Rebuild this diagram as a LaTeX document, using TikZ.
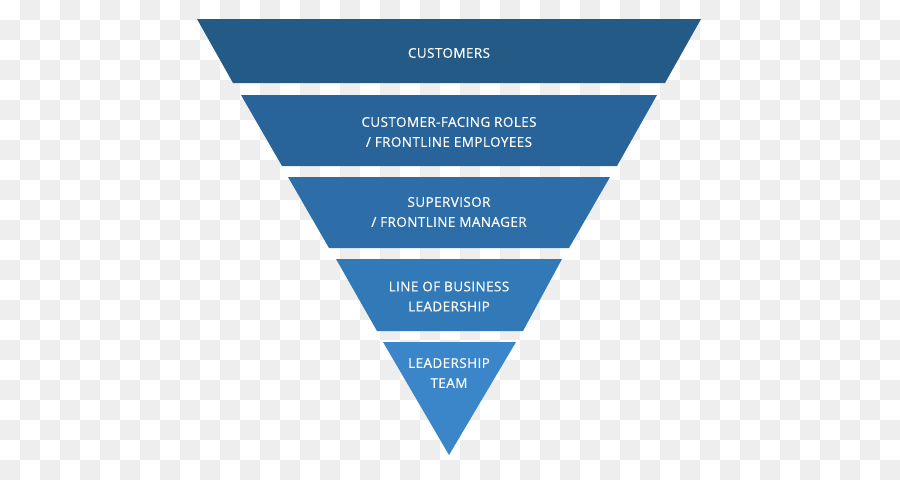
\documentclass[tikz,border=0pt]{standalone}
\usepackage{fontspec}
\setmainfont{Open Sans}
\definecolor{chk}{HTML}{EEEEEE}
\definecolor{cA}{HTML}{245A86}
\definecolor{cB}{HTML}{28649A}
\definecolor{cC}{HTML}{2D6EA9}
\definecolor{cD}{HTML}{3279B8}
\definecolor{cE}{HTML}{3A86C8}
\tikzset{
  lbl/.style={text=white, align=center, inner sep=0pt,
    font=\fontsize{13.5}{20}\selectfont\addfontfeatures{LetterSpace=3,FakeBold=0.4}},
}
\begin{document}
\begin{tikzpicture}[x=1pt,y=-1pt]
\useasboundingbox (0,0) rectangle (900,480);
\fill[white] (0,0) rectangle (900,480);
\foreach \i in {0,...,44}{
  \foreach \j in {0,...,23}{
    \pgfmathtruncatemacro\odd{mod(\i+\j,2)}
    \ifnum\odd=1 \fill[chk] (\i*20,\j*20) rectangle ++(20,20); \fi
  }
}
\fill[cA] (197,19) -- (701,19) -- (665,83) -- (233,83) -- cycle;
\fill[cB] (241,95) -- (657,95) -- (617,166) -- (282,166) -- cycle;
\fill[cC] (288,177) -- (610,177) -- (569,248) -- (329,248) -- cycle;
\fill[cD] (336,259) -- (562,259) -- (523,331) -- (377,331) -- cycle;
\fill[cE] (383,342) -- (516,342) -- (449,455) -- cycle;
\node[lbl] (t1) at (449,53) {CUSTOMERS};
\node[lbl] (t2) at (449,132) {CUSTOMER-FACING ROLES\\/ FRONTLINE EMPLOYEES};
\node[lbl] (t3) at (449,212) {SUPERVISOR\\/ FRONTLINE MANAGER};
\node[lbl] (t4) at (449,296.5) {LINE OF BUSINESS\\LEADERSHIP};
\node[lbl] (t5) at (449,373) {LEADERSHIP\\TEAM};
\end{tikzpicture}
\end{document}
